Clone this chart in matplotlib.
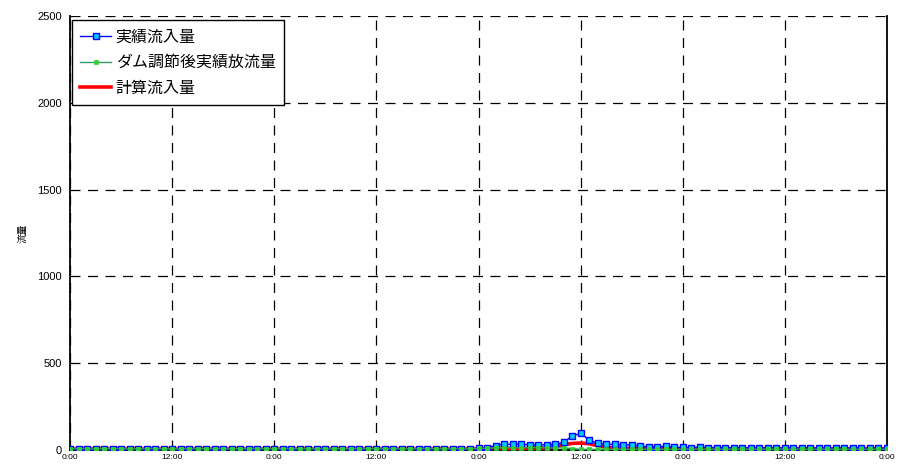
import matplotlib
matplotlib.use("Agg")
import matplotlib.pyplot as plt
import numpy as np

hours = list(range(97))
tick_hours = list(range(0, 97, 12))
tick_labels = ["0:00", "12:00", "0:00", "12:00", "0:00", "12:00", "0:00", "12:00", "0:00"]

actual_inflow = [
    5, 5, 3, 5, 5, 5, 5, 3, 5, 5, 5, 5,
    5, 5, 3, 5, 5, 5, 5, 3, 5, 5, 5, 5,
    5, 5, 3, 5, 5, 5, 5, 3, 5, 5, 5, 5,
    5, 5, 3, 5, 5, 5, 5, 3, 5, 5, 5, 5,
    10, 13, 25, 33, 33, 33, 30, 29, 31, 33, 44, 80,
    96, 58, 38, 33, 33, 29, 29, 23, 19, 19, 21, 15,
    15, 14, 16, 14, 14, 12, 12, 12, 11, 11, 11, 10,
    10, 10, 10, 10, 10, 10, 10, 10, 10, 9, 9, 9, 9,
]
dam_outflow = [
    7, 7, 7, 7, 7, 7, 7, 7, 7, 7, 7, 7,
    7, 7, 7, 7, 7, 7, 7, 7, 7, 7, 7, 7,
    7, 7, 7, 7, 7, 7, 7, 7, 7, 7, 7, 7,
    7, 7, 7, 7, 7, 7, 7, 7, 7, 7, 7, 7,
    9, 11, 12, 13, 13, 13, 13, 13, 13, 12, 12, 8,
    4, 4, 4, 4, 4, 4, 4, 4, 4, 4, 4, 4,
    5, 5, 5, 5, 5, 5, 5, 5, 5, 5, 5, 5,
    5, 5, 5, 5, 5, 5, 5, 5, 5, 5, 5, 5, 5,
]
calc_inflow = [
    5, 5, 5, 5, 5, 5, 5, 5, 5, 5, 5, 5,
    5, 5, 5, 5, 5, 5, 5, 5, 5, 5, 5, 5,
    5, 5, 5, 5, 5, 5, 5, 5, 5, 5, 5, 5,
    5, 5, 5, 5, 5, 5, 5, 5, 5, 5, 5, 5,
    6, 7, 8, 9, 10, 10, 10, 10, 12, 18, 30, 38,
    40, 36, 25, 16, 12, 10, 9, 8, 8, 8, 7, 7,
    7, 7, 7, 7, 7, 7, 6, 6, 6, 6, 6, 6,
    6, 6, 6, 6, 6, 6, 6, 6, 6, 6, 6, 6, 6,
]

plt.rcParams['font.family'] = ['Liberation Sans', 'Noto Sans CJK JP', 'DejaVu Sans']

fig = plt.figure(figsize=(9.01, 4.66), dpi=100)
ax = fig.add_axes([70/901, 16/466, 817/901, 434/466])

ax.plot(hours, calc_inflow, color='#ff0000', lw=2.6, zorder=3, label='計算流入量')
ax.plot(hours, actual_inflow, color='#0000ff', lw=1.0, marker='s', markersize=4.2,
        markerfacecolor='#00ccff', markeredgecolor='#0000ff', markeredgewidth=1.0,
        zorder=4, label='実績流入量')
ax.plot(hours, dam_outflow, color='#339966', lw=1.0, marker='s', markersize=3.2,
        markerfacecolor='#33cc33', markeredgecolor='#33cc33', markeredgewidth=0.5,
        zorder=5, label='ダム調節後実績放流量')

ax.set_xlim(0, 96)
ax.set_ylim(0, 2500)
ax.set_xticks(tick_hours)
ax.set_xticklabels(tick_labels, fontsize=6)
ax.set_yticks(range(0, 2501, 500))
ax.tick_params(axis='y', labelsize=8, length=0, pad=6)
ax.tick_params(axis='x', length=0, pad=3)
ax.grid(True, color='black', linestyle=(0, (8, 6)), linewidth=0.9)
for s in ['left', 'right', 'bottom']:
    ax.spines[s].set_color('black')
    ax.spines[s].set_linewidth(1.3)
ax.spines['top'].set_visible(False)

ax.set_ylabel('流量', fontsize=7, family=['Noto Sans CJK JP'], labelpad=7)

handles, labels = ax.get_legend_handles_labels()
order = [1, 2, 0]
leg = ax.legend([handles[i] for i in order], [labels[i] for i in order],
                loc='upper left', bbox_to_anchor=(0.003, 0.99), borderaxespad=0,
                fancybox=False, edgecolor='black', framealpha=1,
                prop={'family': ['Noto Sans CJK JP'], 'size': 11.5},
                handlelength=1.9, borderpad=0.5, labelspacing=0.55, handletextpad=0.3)
leg.get_frame().set_linewidth(1.0)

fig.savefig('out.png', dpi=100)
